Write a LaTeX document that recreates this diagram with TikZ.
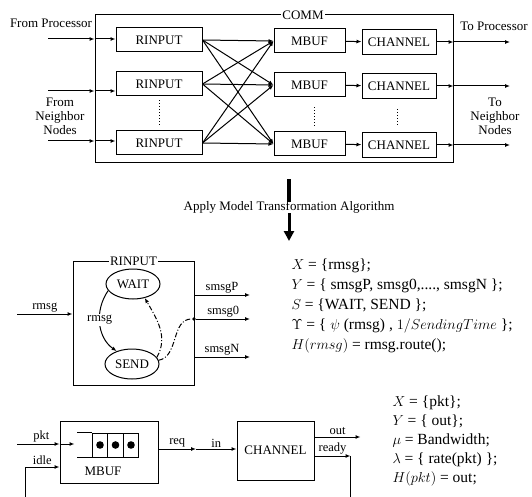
\documentclass[tikz,border=0pt]{standalone}
\usepackage{fontspec}
\setmainfont{Liberation Serif}
\usetikzlibrary{arrows.meta,positioning,calc,shapes.geometric}

\begin{document}
\begin{tikzpicture}[x=1pt, y=-1pt, line width=1pt,
  box/.style={draw, inner sep=0pt, minimum height=24pt, font=\fontsize{13}{15}\selectfont},
  frame/.style={draw, inner sep=0pt},
  title/.style={fill=white, inner sep=1.5pt, font=\fontsize{13}{15}\selectfont},
  state/.style={draw, ellipse, inner sep=0pt, minimum width=54pt, minimum height=30pt, font=\fontsize{13}{15}\selectfont},
  cell/.style={draw, inner sep=0pt, minimum width=15.5pt, minimum height=24pt},
  lbl/.style={align=center, inner sep=1pt, font=\fontsize{13}{14}\selectfont},
  small/.style={inner sep=1.5pt, font=\fontsize{12.5}{14}\selectfont},
  spec/.style={align=left, inner sep=0pt, anchor=north west},
  arr/.style={-{Latex[length=5pt, width=4pt]}},
  dashdot/.style={dash pattern=on 5pt off 2pt on 1pt off 2pt}
]
\useasboundingbox (0,0) rectangle (532,497);

% COMM network
\node[frame, minimum width=358pt, minimum height=148pt] (comm) at (274,89) {};
\node[title] (commlbl) at (303,15) {COMM};

\node[box, minimum width=86pt] (rin1) at (159,40) {RINPUT};
\node[box, minimum width=86pt] (rin2) at (159,84) {RINPUT};
\node[box, minimum width=86pt] (rin3) at (159,143) {RINPUT};
\node[box, minimum width=71pt] (mbuf1) at (309.5,41) {MBUF};
\node[box, minimum width=71pt] (mbuf2) at (309.5,85) {MBUF};
\node[box, minimum width=71pt] (mbuf3) at (309.5,144) {MBUF};
\node[box, minimum width=74pt, minimum height=25pt] (chan1) at (399,42) {CHANNEL};
\node[box, minimum width=74pt, minimum height=25pt] (chan2) at (399,86) {CHANNEL};
\node[box, minimum width=74pt, minimum height=25pt] (chan3) at (399,145) {CHANNEL};

\foreach \i in {1,2,3} {
  \foreach \j in {1,2,3}
    \draw[arr] (rin\i.east) -- (mbuf\j.west);
  \draw[arr] (mbuf\i) -- (chan\i);
}
\draw[dotted] ([yshift=-4pt]rin2.south) -- ([yshift=4pt]rin3.north);
\draw[dotted] ([xshift=5pt,yshift=-10pt]mbuf2.south) -- ([xshift=5pt,yshift=5pt]mbuf3.north);
\draw[dotted] ([xshift=-2pt,yshift=-10pt]chan2.south) -- ([xshift=-2pt,yshift=5pt]chan3.north);

\node[lbl] (fromP) at (51,23) {From Processor};
\node[lbl] (fromN) at (60,116) {From\\Neighbor\\Nodes};
\node[lbl] (toP) at (494,26) {To Processor};
\node[lbl] (toN) at (495,116) {To\\Neighbor\\Nodes};

\coordinate (inP) at (48,39);
\coordinate (inN1) at (48,91);
\coordinate (inN2) at (48,141);
\coordinate (outEnd) at (510,0);
\draw[arr] (inP) -- (inP -| comm.west);
\draw[arr] (inP -| comm.west) -- (inP -| rin1.west);
\draw[arr] (inN1) -- (inN1 -| comm.west);
\draw[arr] (inN1 -| comm.west) -- (inN1 -| rin2.west);
\draw[arr] (inN2) -- (inN2 -| comm.west);
\draw[arr] (inN2 -| comm.west) -- (inN2 -| rin3.west);
\foreach \i in {1,2,3} {
  \draw[arr] (chan\i) -- (chan\i -| comm.east);
  \draw[arr] (chan\i -| comm.east) -- (chan\i -| outEnd);
}

% transformation
\node[lbl] (apply) at (289,207) {Apply Model Transformation Algorithm};
\coordinate (trTop) at (289,179);
\coordinate (trBot) at (289,241);
\draw[line width=3.5pt] (trTop) -- ([yshift=-2pt]apply.north);
\draw[line width=3pt, -{Triangle[length=10pt, width=10pt]}] ([yshift=1pt]apply.south) -- (trBot);

% RINPUT model
\node[frame, minimum width=121pt, minimum height=124pt] (rinbox) at (133.5,323.5) {};
\node[title] (rinlbl) at (rinbox.north) {RINPUT};
\node[state] (wait) at (133,284) {WAIT};
\node[state] (send) at (132,364) {SEND};
\node[circle, fill, inner sep=1.4pt] (junc) at (194,319) {};

\coordinate (rmsgIn) at (17,314);
\draw[arr] (rmsgIn) -- (rmsgIn -| rinbox.west) node[small, midway, above] {rmsg};
\draw[arr] (wait.195) to[out=235, in=145] node[small, fill=white, pos=0.45] {rmsg} (send.140);
\draw[arr, dashdot] (send.15) to[out=60, in=-60] (wait.-50);
\draw[dashdot] (send.8) to[out=10, in=180] (junc);

\coordinate (sP) at (194,295);
\coordinate (sN) at (194,357);
\draw[arr] (sP) -- ++(56,0) node[small, midway, above] {smsgP};
\draw[arr] (junc) -- ++(56,0) node[small, midway, above] {smsg0};
\draw[arr] (sN) -- ++(56,0) node[small, midway, above] {smsgN};

\node[spec, font=\fontsize{15.5}{20}\selectfont] (rinspec) at (291,258) {%
$X$ = \{rmsg\};\\
$Y$ = \{ smsgP, smsg0,...., smsgN \};\\
$S$ = \{WAIT, SEND \};\\
$\Upsilon$ = \{ $\psi$ (rmsg) , $1/SendingTime$ \};\\
$H(rmsg)$ = rmsg.route();};

% MBUF and CHANNEL model
\node[frame, minimum width=98pt, minimum height=62pt] (mbufbox) at (109,452) {};
\node[cell] (q1) at (100,445) {};
\node[cell] (q2) at (115.5,445) {};
\node[cell] (q3) at (131,445) {};
\foreach \c in {q1,q2,q3}
  \fill (\c) circle (3.8pt);
\draw (q1.north west) -- ++(-15,0);
\draw (q1.south west) -- ++(-15,0);
\node[lbl] (mbuflbl) at (103,471) {MBUF};

\node[frame, minimum width=77pt, minimum height=59pt, font=\fontsize{13}{15}\selectfont] (chanbox) at (275.5,450.5) {CHANNEL};

\coordinate (pktIn) at (17,444);
\draw[arr] (pktIn) -- (pktIn -| mbufbox.west) node[small, midway, above, xshift=3pt] {pkt};
\draw[arr] (pktIn -| mbufbox.west) -- ++(15,0);
\coordinate (idleIn) at (25,497);
\draw[arr] (idleIn) |- (mbufbox.west |- 0,467) node[small, pos=0.75, above] {idle};

\coordinate (reqMid) at (196,449);
\draw[arr] (mbufbox.east |- reqMid) -- (reqMid) node[small, midway, above] {req};
\draw[arr] (reqMid) -- (chanbox.west |- reqMid) node[small, midway, above] {in};

\coordinate (outP) at (chanbox.east |- 0,437);
\coordinate (rdyP) at (chanbox.east |- 0,456);
\draw[arr] (outP) -- ++(46,0) node[small, midway, above] {out};
\draw[arr] (rdyP) -- ++(36,0) coordinate (rdyCorner) node[small, midway, above] {ready};
\draw (rdyCorner) -- (rdyCorner |- 0,497);

\node[spec, font=\fontsize{15.5}{19}\selectfont] (chanspec) at (392,395) {%
$X$ = \{pkt\};\\
$Y$ = \{ out\};\\
$\mu$ = Bandwidth;\\
$\lambda$ = \{ rate(pkt) \};\\
$H(pkt)$ = out;};

\end{tikzpicture}
\end{document}
